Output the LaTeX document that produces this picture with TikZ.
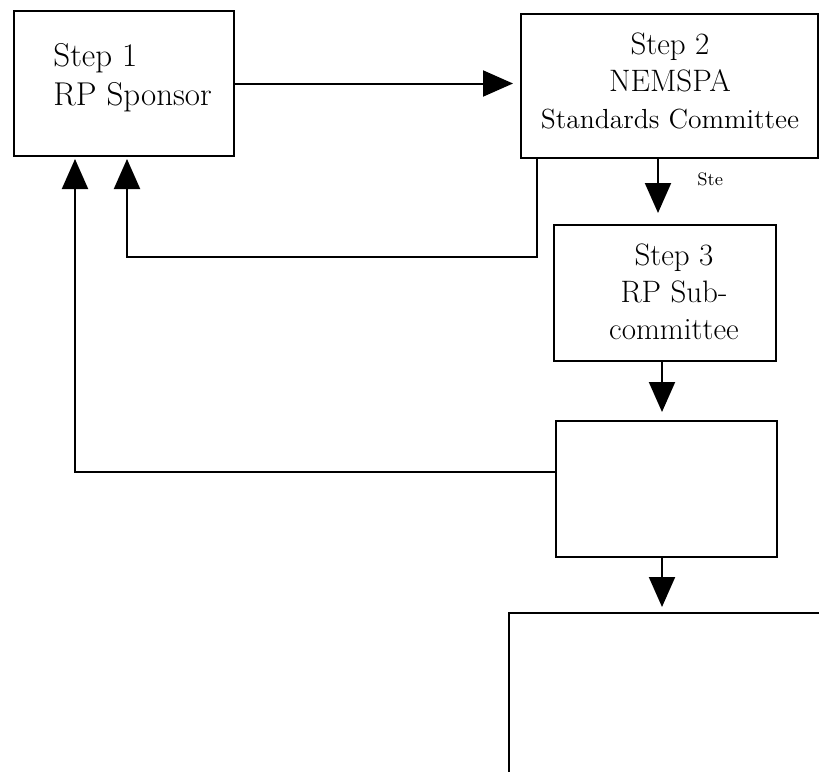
\documentclass[tikz,border=0pt]{standalone}
\usepackage{fontspec}
\usepackage{tikz}
\usetikzlibrary{arrows.meta}
\tikzset{%
  tipA/.tip={Triangle[length=15pt,width=13pt]},
  stepbox/.style={draw=black, line width=1pt, anchor=north west, inner sep=0pt},
  steptext/.style={inner sep=0pt, font=\fontsize{15.5}{18.5}\selectfont\addfontfeature{LetterSpace=5}},
  flow/.style={black, line width=1pt, -tipA}
}

\begin{document}
\begin{tikzpicture}[x=0.5pt,y=-0.5pt]
    \useasboundingbox (0,0) rectangle (819,771);
    % boxes
    \node[stepbox, minimum width=110pt, minimum height=72.5pt] (sponsor) at (13,10) {};
    \node[stepbox, minimum width=148.5pt, minimum height=72pt] (stdc) at (520,13) {};
    \node[stepbox, minimum width=111pt, minimum height=68pt] (subc) at (553,224) {};
    \node[stepbox, minimum width=110.5pt, minimum height=68pt] (review) at (555,420) {};
    \node[stepbox, minimum width=200pt, minimum height=150pt] (final) at (508,612) {};
    % texts
    \node[steptext, anchor=north west, align=left,
          font=\fontsize{16.5}{19.5}\selectfont\addfontfeature{LetterSpace=7}] (sponsortext) at (53,43) {Step 1\\RP Sponsor};
    \node[steptext, anchor=north, align=center] (stdctext) at (670,32)
        {Step 2\\NEMSPA\\{\fontsize{13.8}{17.5}\selectfont Standards Committee}};
    \node[steptext, anchor=north, align=center] (subctext) at (674,243) {Step 3\\RP Sub-\\committee};
    \node[inner sep=0pt, anchor=north west, font=\fontsize{9}{10}\selectfont\addfontfeature{LetterSpace=10}] (stelabel) at (697,172) {Ste};
    % forward arrows
    \coordinate (dnA) at (658,0);
    \coordinate (dnB) at (662,0);
    \draw[flow, shorten >=3.5pt] (sponsor.east) -- (sponsor.east -| stdc.west);
    \draw[flow, shorten >=5.5pt] (stdc.south -| dnA) -- (subc.north -| dnA);
    \draw[flow, shorten >=4pt] (subc.south -| dnB) -- (review.north -| dnB);
    \draw[flow, shorten >=2.5pt] (review.south -| dnB) -- (final.north -| dnB);
    % feedback arrows
    \coordinate (fbA) at (537,257);
    \coordinate (fbB) at (127,257);
    \coordinate (fbC) at (75,472);
    \draw[flow, shorten >=1pt] (fbA |- stdc.south) -- (fbA) -- (fbB) -- (fbB |- sponsor.south);
    \draw[flow, shorten >=1pt] (fbC -| review.west) -- (fbC) -- (fbC |- sponsor.south);
\end{tikzpicture}
\end{document}
